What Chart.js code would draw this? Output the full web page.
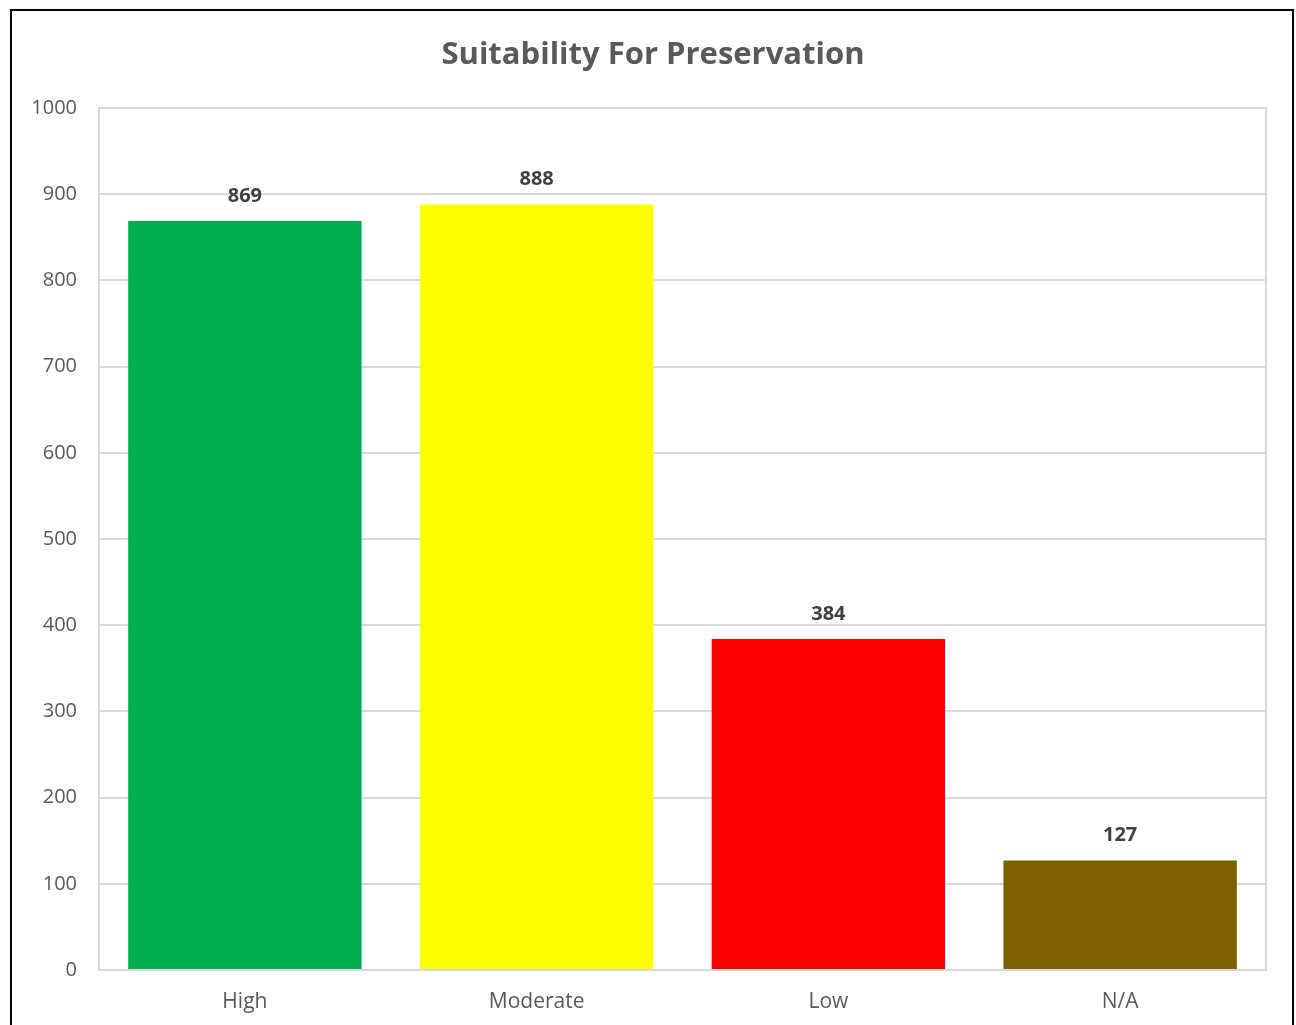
<!DOCTYPE html>
<html>
<head>
<meta charset="utf-8">
<script src="https://cdn.jsdelivr.net/npm/chart.js@4/dist/chart.umd.min.js"></script>
<style>
  html, body { margin: 0; padding: 0; background: #fff; overflow: hidden; }
  #wrap { position: absolute; left: 0; top: 0; width: 1296px; height: 1025px; }
  #frame { position: absolute; left: 10px; top: 9px; width: 1284px; height: 1100px;
           box-sizing: border-box; border: 2px solid #000; pointer-events: none; }
</style>
</head>
<body>
<div id="wrap"><canvas id="c" width="1296" height="1025"></canvas></div>
<div id="frame"></div>
<script>
// Counts of sites per preservation suitability class
const categories = ['High', 'Moderate', 'Low', 'N/A'];
const counts = [869, 888, 384, 127];
const barColors = ['#00b050', '#ffff00', '#ff0000', '#7f6000'];
const yTicks = [0, 100, 200, 300, 400, 500, 600, 700, 800, 900, 1000];

const FONT = "'Open Sans', 'Liberation Sans', sans-serif";
const TEXT = '#595959';
const GRID = '#d9d9d9';

// Title, plot frame and value labels
const decor = {
  id: 'decor',
  beforeDatasetsDraw(chart) {
    const { ctx, chartArea: a } = chart;
    ctx.save();
    ctx.strokeStyle = GRID;
    ctx.lineWidth = 2;
    ctx.strokeRect(a.left, a.top, a.right - a.left, a.bottom - a.top);
    ctx.restore();
  },
  afterDatasetsDraw(chart) {
    const { ctx } = chart;
    ctx.save();
    ctx.fillStyle = '#404040';
    ctx.font = "bold 20px " + FONT;
    ctx.textAlign = 'center';
    ctx.textBaseline = 'middle';
    chart.getDatasetMeta(0).data.forEach((bar, i) => {
      ctx.fillText(String(counts[i]), bar.x, bar.y - 25);
    });
    ctx.fillStyle = TEXT;
    ctx.font = "bold 31px " + FONT;
    ctx.fillText('Suitability For Preservation', 653, 55);
    ctx.restore();
  }
};

new Chart(document.getElementById('c'), {
  type: 'bar',
  data: {
    labels: categories,
    datasets: [{
      data: counts,
      backgroundColor: barColors,
      borderWidth: 0,
      barPercentage: 0.8,
      categoryPercentage: 1.0
    }]
  },
  options: {
    responsive: false,
    animation: false,
    devicePixelRatio: 1,
    layout: { padding: { left: 20, right: 30, top: 108, bottom: 0 } },
    plugins: { legend: { display: false }, tooltip: { enabled: false }, title: { display: false } },
    scales: {
      x: {
        grid: { display: false, drawTicks: false },
        border: { display: false },
        ticks: { color: TEXT, font: { family: FONT, size: 21 }, padding: 19 },
        afterFit(s) { s.height = 55; }
      },
      y: {
        min: 0, max: 1000,
        afterBuildTicks(s) { s.ticks = yTicks.map(v => ({ value: v })); },
        grid: { color: GRID, lineWidth: 2, drawTicks: false },
        border: { display: false },
        ticks: { color: TEXT, font: { family: FONT, size: 20 }, padding: 22,
                 callback: v => String(v) },
        afterFit(s) { s.width = 79; }
      }
    }
  },
  plugins: [decor]
});
</script>
</body>
</html>
